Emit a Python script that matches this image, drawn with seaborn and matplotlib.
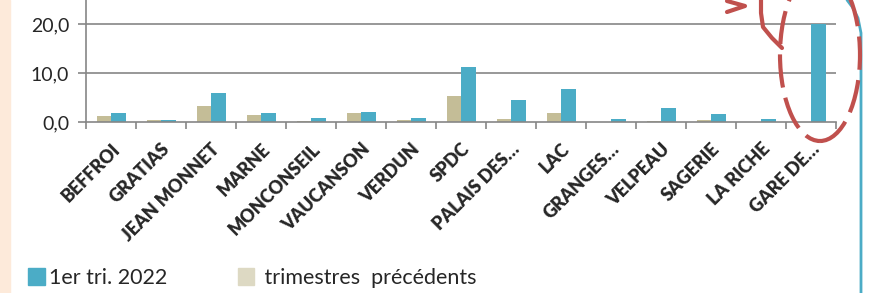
import matplotlib
matplotlib.use("Agg")
import matplotlib.pyplot as plt
import matplotlib.patches as mpatches
from matplotlib.lines import Line2D
from matplotlib.ticker import FixedLocator, FuncFormatter
import numpy as np
import pandas as pd
import seaborn as sns

# values
sites = ["BEFFROI", "GRATIAS", "JEAN MONNET", "MARNE", "MONCONSEIL", "VAUCANSON",
         "VERDUN", "SPDC", "PALAIS DES…", "LAC", "GRANGES…", "VELPEAU",
         "SAGERIE", "LA RICHE", "GARE DE…"]
tri_2022 = [1.85, 0.5, 5.9, 1.85, 0.75, 2.1, 0.8, 11.2, 4.5, 6.7, 0.7, 2.8, 1.65, 0.7, 20.1]
precedents = [1.2, 0.4, 3.3, 1.4, 0.3, 1.85, 0.4, 5.4, 0.55, 1.8, 0.0, 0.3, 0.4, 0.0, 0.0]
series_names = ["trimestres  précédents", "1er tri. 2022"]
y_ticks = [0, 10, 20]

teal = "#4BACC6"
beige = "#C4BD97"
grey = "#868686"
red = "#C0504D"

df = pd.DataFrame({
    "site": sites * 2,
    "valeur": precedents + tri_2022,
    "serie": [series_names[0]] * len(sites) + [series_names[1]] * len(sites),
})

sns.set_style("white")
plt.rcParams["font.family"] = ["Lato", "DejaVu Sans"]

W, H = 872, 293
fig = plt.figure(figsize=(W / 100, H / 100), dpi=100)
ax = fig.add_axes([86 / W, 1 - 122 / H, (836 - 86) / W, 122 / H])

sns.barplot(data=df, x="site", y="valeur", hue="serie", hue_order=series_names,
            palette=[beige, teal], width=0.58, ax=ax, legend=False,
            saturation=1, linewidth=0)

ax.set_ylim(0, 25)
ax.set_xlim(-0.5, len(sites) - 0.5)
ax.yaxis.set_major_locator(FixedLocator(y_ticks))
ax.yaxis.set_major_formatter(FuncFormatter(lambda v, p: f"{v:.1f}".replace(".", ",")))
for v in y_ticks[1:]:
    ax.axhline(v, color=grey, lw=1.2, zorder=0)
ax.tick_params(axis="y", direction="out", length=6, width=1.2, color=grey,
               labelsize=14, pad=6, left=True)
ax.set_xticks(range(len(sites)))
ax.set_xticklabels(sites, rotation=45, ha="right", rotation_mode="anchor",
                   fontsize=13, fontweight=800)
ax.tick_params(axis="x", length=0, pad=13)
ax.set_xticks(np.arange(-0.5, len(sites)), minor=True)
ax.tick_params(axis="x", which="minor", direction="out", length=5, width=1.2,
               color=grey, bottom=True)
for s in ["top", "right"]:
    ax.spines[s].set_visible(False)
for s in ["left", "bottom"]:
    ax.spines[s].set_color(grey)
    ax.spines[s].set_linewidth(1.2)
ax.set_xlabel("")
ax.set_ylabel("")

# legend
handles = [mpatches.Patch(color=teal), mpatches.Patch(color="#DDD9C3")]
fig.legend(handles, [series_names[1], " " + series_names[0]], loc="center left",
           bbox_to_anchor=(9 / W, 1 - 278 / H), ncol=2, frameon=False,
           fontsize=15.5, handlelength=0.75, handleheight=0.8, handletextpad=0.2,
           columnspacing=3.3)

# page decorations
fig.patches.append(mpatches.Rectangle((0, 0), 10 / W, 1, transform=fig.transFigure,
                                      color="#FDEADA", zorder=-1))
bx = np.array([847, 853, 858, 861, 861]) / W
by = 1 - np.array([0, 8, 18, 33, 293]) / H
fig.lines.append(Line2D(bx, by, transform=fig.transFigure, color=teal, lw=2))

# red hand-drawn highlight
fig.patches.append(mpatches.Ellipse((820 / W, 1 - 55 / H), 80 / W, 172 / H,
                                    transform=fig.transFigure, fill=False,
                                    edgecolor=red, lw=3, linestyle=(0, (8, 2.5)),
                                    zorder=5))
ax_x = np.array([761, 761, 763, 772, 782]) / W
ax_y = 1 - np.array([0, 13, 27, 38, 48]) / H
fig.lines.append(Line2D(ax_x, ax_y, transform=fig.transFigure, color=red, lw=3, zorder=5))
fig.lines.append(Line2D(np.array([727, 745, 727]) / W, 1 - np.array([1, 6, 12]) / H,
                        transform=fig.transFigure, color=red, lw=3, zorder=5))

fig.savefig("out.png", dpi=100)
